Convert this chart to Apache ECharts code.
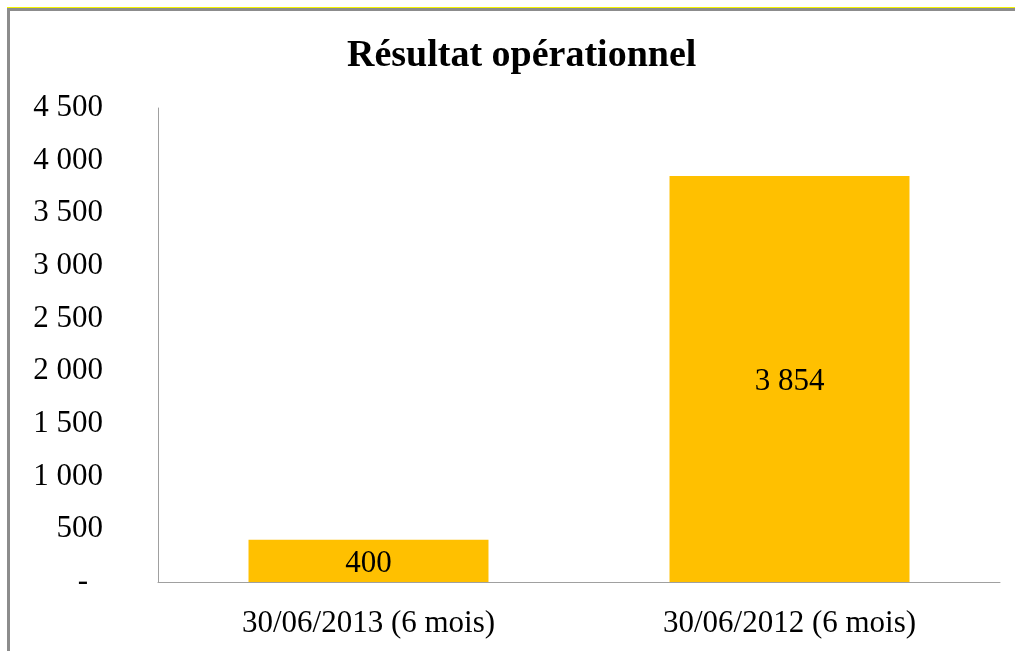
<!DOCTYPE html>
<html>
<head>
<meta charset="utf-8">
<script src="https://cdn.jsdelivr.net/npm/echarts@6/dist/echarts.min.js"></script>
<style>
  html, body { margin: 0; padding: 0; background: #fff; }
  #chart { width: 1015px; height: 651px; }
</style>
</head>
<body>
<div id="chart"></div>
<script>
  // données du graphique
  var categories = ['30/06/2013 (6 mois)', '30/06/2012 (6 mois)'];
  var resultat = [400, 3854];
  var yMax = 4500;
  var yStep = 500;

  function fmt(v) {
    return String(v).replace(/\B(?=(\d{3})+(?!\d))/g, ' ');
  }

  var font = '"Liberation Serif", "Times New Roman", serif';

  var myChart = echarts.init(document.getElementById('chart'));
  myChart.setOption({
    backgroundColor: '#fff',
    animation: false,
    title: {
      text: 'Résultat opérationnel',
      left: 342,
      top: 32,
      textStyle: { fontFamily: font, fontSize: 38, fontWeight: 'bold', color: '#000' }
    },
    graphic: [
      // cadre du graphique (haut et gauche)
      { type: 'rect', shape: { x: 7, y: 7, width: 1008, height: 1 }, style: { fill: '#f2f200' } },
      { type: 'rect', shape: { x: 7, y: 8, width: 1008, height: 3 }, style: { fill: '#8c8c8c' } },
      { type: 'rect', shape: { x: 7, y: 8, width: 3, height: 643 }, style: { fill: '#8c8c8c' } }
    ],
    grid: { left: 158, right: 15, top: 108, bottom: 69 },
    xAxis: {
      type: 'category',
      data: categories,
      axisLine: { lineStyle: { color: '#a0a0a0', width: 1 } },
      axisTick: { show: false },
      axisLabel: { margin: 26, fontFamily: font, fontSize: 31, color: '#000' }
    },
    yAxis: {
      type: 'value',
      min: 0,
      max: yMax,
      interval: yStep,
      axisLine: { show: true, lineStyle: { color: '#a0a0a0', width: 1 } },
      axisTick: { show: false },
      splitLine: { show: false },
      axisLabel: {
        margin: 55,
        fontFamily: font,
        fontSize: 31,
        color: '#000',
        formatter: function (v) {
          return v === 0 ? '{z|-}' : fmt(v);
        },
        rich: {
          z: { fontFamily: font, fontSize: 31, color: '#000', padding: [0, 15, 0, 0] }
        }
      }
    },
    series: [{
      type: 'bar',
      data: resultat,
      barWidth: '57%',
      itemStyle: { color: '#ffc000' },
      label: {
        show: true,
        position: 'inside',
        offset: [0, 3],
        fontFamily: font,
        fontSize: 31,
        color: '#000',
        formatter: function (p) { return fmt(p.value); }
      }
    }]
  });
</script>
</body>
</html>
